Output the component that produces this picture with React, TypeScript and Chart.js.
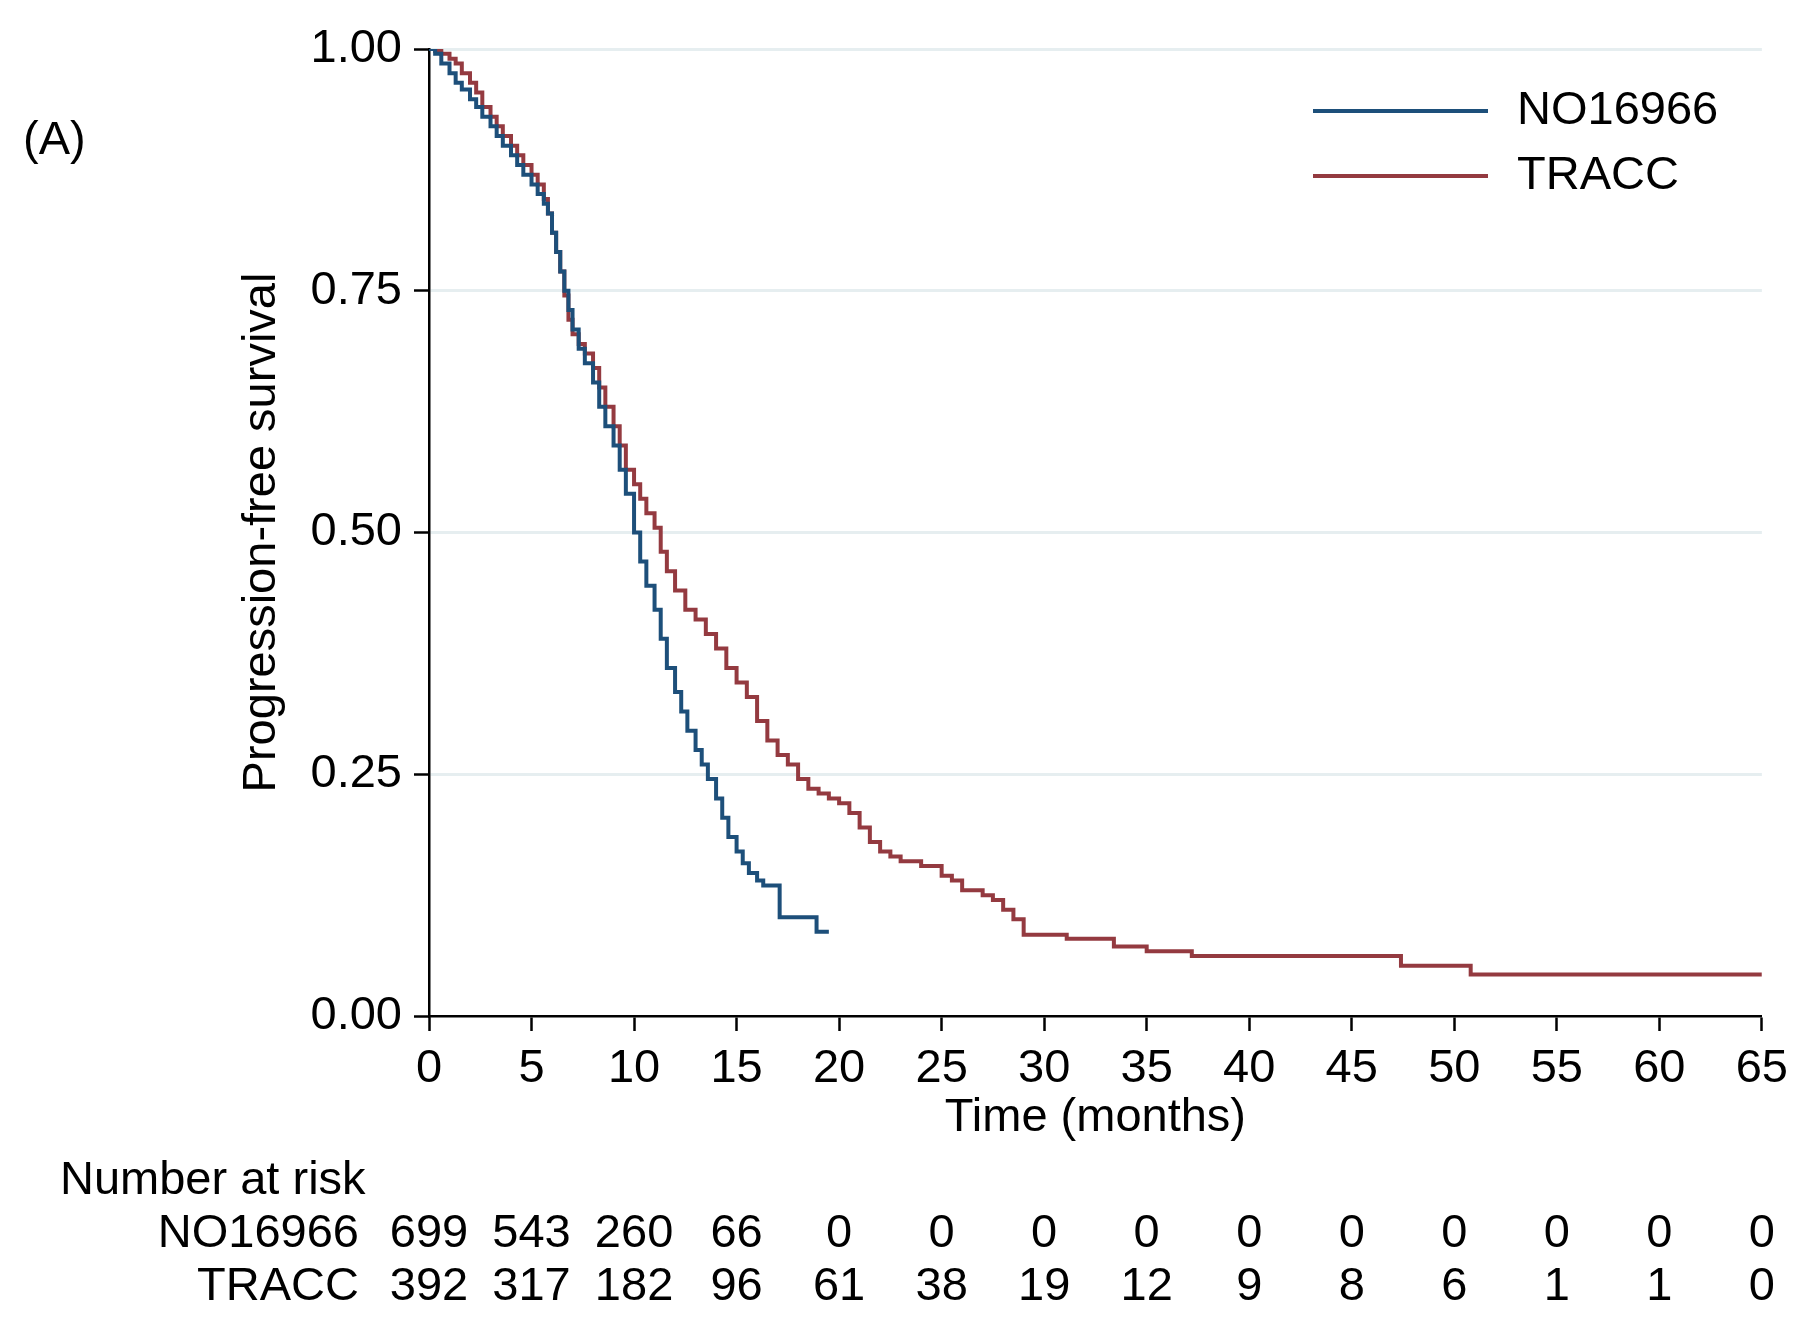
import { useEffect, useRef } from 'react';
import { Chart, registerables } from 'chart.js';

Chart.register(...registerables);

// KM curves: time (months) and survival after that time
const noTime = [0, 0.3, 0.6, 1, 1.3, 1.6, 2, 2.3, 2.6, 3, 3.3, 3.6, 4, 4.3, 4.6, 5, 5.3, 5.6, 5.8, 6, 6.2, 6.4, 6.6, 6.8, 7, 7.3, 7.6, 8, 8.3, 8.6, 9, 9.3, 9.6, 10, 10.3, 10.6, 11, 11.3, 11.6, 12, 12.3, 12.6, 13, 13.3, 13.6, 14, 14.3, 14.6, 15, 15.3, 15.6, 16, 16.3, 17.1, 18.9, 19.5];
const noSurv = [1.0, 0.995, 0.985, 0.975, 0.965, 0.958, 0.948, 0.94, 0.93, 0.92, 0.91, 0.9, 0.89, 0.88, 0.87, 0.86, 0.85, 0.84, 0.83, 0.81, 0.79, 0.77, 0.75, 0.73, 0.71, 0.69, 0.675, 0.655, 0.63, 0.61, 0.59, 0.565, 0.54, 0.5, 0.47, 0.445, 0.42, 0.39, 0.36, 0.335, 0.315, 0.295, 0.275, 0.26, 0.245, 0.225, 0.205, 0.185, 0.17, 0.158, 0.148, 0.14, 0.135, 0.102, 0.087, 0.087];
const trTime = [0, 0.3, 0.6, 1, 1.3, 1.6, 2, 2.3, 2.6, 3, 3.3, 3.6, 4, 4.3, 4.6, 5, 5.3, 5.6, 5.8, 6, 6.2, 6.4, 6.6, 6.8, 7, 7.3, 7.6, 8, 8.3, 8.6, 9, 9.3, 9.6, 10, 10.3, 10.6, 11, 11.3, 11.6, 12, 12.5, 13, 13.5, 14, 14.5, 15, 15.5, 16, 16.5, 17, 17.5, 18, 18.5, 19, 19.5, 20, 20.5, 21, 21.5, 22, 22.5, 23, 24, 25, 25.5, 26, 27, 27.5, 28, 28.5, 29, 31.1, 33.4, 35, 37.2, 47.4, 50.8, 65];
const trSurv = [1.0, 0.998, 0.995, 0.99, 0.985, 0.975, 0.965, 0.955, 0.94, 0.93, 0.92, 0.91, 0.9, 0.89, 0.88, 0.87, 0.86, 0.845, 0.83, 0.81, 0.79, 0.77, 0.745, 0.72, 0.705, 0.695, 0.685, 0.67, 0.65, 0.63, 0.61, 0.59, 0.565, 0.55, 0.535, 0.52, 0.505, 0.48, 0.46, 0.44, 0.42, 0.41, 0.395, 0.38, 0.36, 0.345, 0.33, 0.305, 0.285, 0.27, 0.26, 0.245, 0.235, 0.23, 0.225, 0.22, 0.21, 0.195, 0.18, 0.17, 0.165, 0.16, 0.155, 0.145, 0.14, 0.13, 0.125, 0.12, 0.11, 0.1, 0.084, 0.08, 0.072, 0.067, 0.062, 0.052, 0.043, 0.043];

const riskTicks = [0, 5, 10, 15, 20, 25, 30, 35, 40, 45, 50, 55, 60, 65];
const riskNO = [699, 543, 260, 66, 0, 0, 0, 0, 0, 0, 0, 0, 0, 0];
const riskTR = [392, 317, 182, 96, 61, 38, 19, 12, 9, 8, 6, 1, 1, 0];

const BLUE = '#1d4f7a';
const RED = '#943a40';
const FONT = "'Liberation Sans', Arial, sans-serif";
const FS = 47;

export default function App() {
  const canvasRef = useRef<HTMLCanvasElement | null>(null);

  useEffect(() => {
    if (!canvasRef.current) return;
    const extras = {
      id: 'extras',
      afterDraw(chart: any) {
        const ctx = chart.ctx;
        const xs = chart.scales.x;
        const ys = chart.scales.y;
        ctx.save();
        ctx.fillStyle = '#000';
        ctx.font = `${FS}px ${FONT}`;
        ctx.textBaseline = 'middle';
        // panel label
        ctx.textAlign = 'left';
        ctx.fillText('(A)', 23, 141);
        // axis titles
        ctx.textAlign = 'center';
        ctx.fillText('Time (months)', (xs.left + xs.right) / 2, 1118);
        ctx.save();
        ctx.translate(262, (ys.top + ys.bottom) / 2);
        ctx.rotate(-Math.PI / 2);
        ctx.fillText('Progression-free survival', 0, 0);
        ctx.restore();
        // legend
        const items = [['NO16966', BLUE, 111], ['TRACC', RED, 176]] as const;
        items.forEach(([lab, col, y]) => {
          ctx.strokeStyle = col;
          ctx.lineWidth = 4;
          ctx.beginPath();
          ctx.moveTo(1313, y);
          ctx.lineTo(1488, y);
          ctx.stroke();
          ctx.textAlign = 'left';
          ctx.fillText(lab, 1517, y);
        });
        // risk table
        ctx.textAlign = 'left';
        ctx.fillText('Number at risk', 60, 1181);
        ctx.textAlign = 'right';
        ctx.fillText('NO16966', 359, 1234);
        ctx.fillText('TRACC', 359, 1287);
        ctx.textAlign = 'center';
        riskTicks.forEach((t, i) => {
          const px = xs.getPixelForValue(t);
          ctx.fillText(String(riskNO[i]), px, 1234);
          ctx.fillText(String(riskTR[i]), px, 1287);
        });
        ctx.restore();
      }
    };

    const chart = new Chart(canvasRef.current, {
      type: 'line',
      data: {
        datasets: [
          {
            label: 'NO16966',
            data: noTime.map((t, i) => ({ x: t, y: noSurv[i] })),
            borderColor: BLUE,
            borderWidth: 4,
            pointRadius: 0,
            stepped: 'before',
            fill: false
          },
          {
            label: 'TRACC',
            data: trTime.map((t, i) => ({ x: t, y: trSurv[i] })),
            borderColor: RED,
            borderWidth: 4,
            pointRadius: 0,
            stepped: 'before',
            fill: false
          }
        ]
      },
      options: {
        responsive: false,
        animation: false,
        layout: { padding: { left: 0, top: 49, right: 34, bottom: 0 } },
        plugins: { legend: { display: false }, tooltip: { enabled: false } },
        scales: {
          x: {
            type: 'linear',
            min: 0,
            max: 65,
            afterFit: (s: any) => { s.height = 301; },
            ticks: { stepSize: 5, color: '#000', font: { family: FONT, size: FS }, padding: 10, maxRotation: 0 },
            grid: { drawOnChartArea: false, tickLength: 15, tickColor: '#000', tickWidth: 2.5 },
            border: { color: '#000', width: 2.5 }
          },
          y: {
            min: 0,
            max: 1,
            afterFit: (s: any) => { s.width = 429; },
            ticks: {
              stepSize: 0.25,
              color: '#000',
              font: { family: FONT, size: FS },
              padding: 12,
              callback: (v: any) => Number(v).toFixed(2)
            },
            grid: {
              color: (c: any) => (c.tick && c.tick.value === 0 ? 'rgba(0,0,0,0)' : '#e6eef0'),
              lineWidth: 3,
              tickLength: 15,
              tickColor: '#000',
              tickWidth: 2.5
            },
            border: { color: '#000', width: 2.5 }
          }
        }
      },
      plugins: [extras]
    });
    return () => chart.destroy();
  }, []);

  return (
    <div style={{ position: 'absolute', left: 0, top: 0, width: 1798, height: 1317, background: '#fff' }}>
      <canvas ref={canvasRef} width={1798} height={1317} />
    </div>
  );
}
